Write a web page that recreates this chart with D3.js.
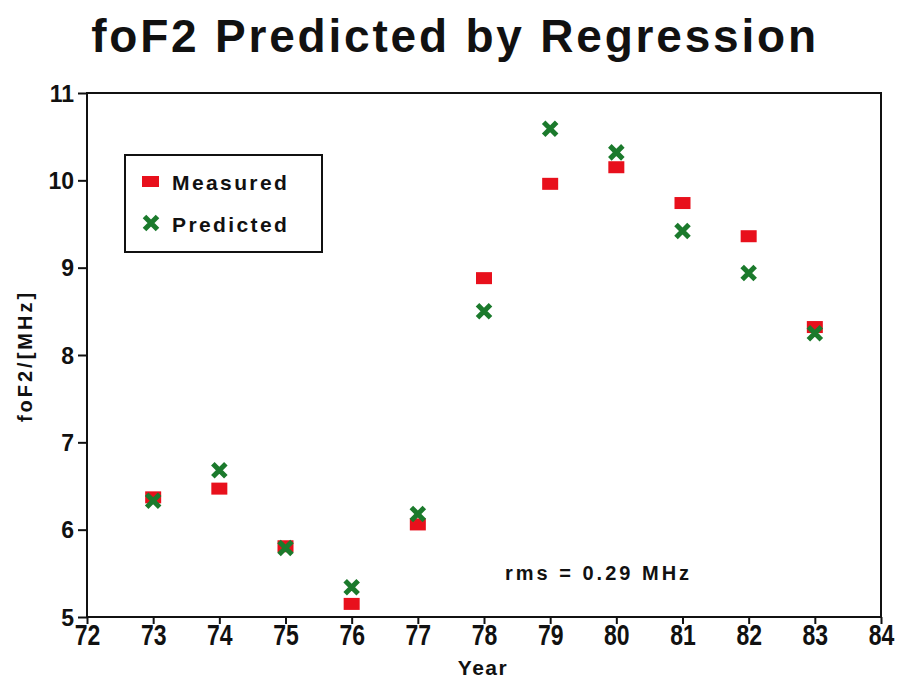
<!DOCTYPE html>
<html>
<head>
<meta charset="utf-8">
<script src="https://cdn.jsdelivr.net/npm/d3@7"></script>
<style>
  body { margin: 0; background: #fff; }
  text { font-family: "Liberation Sans", Arial, sans-serif; font-weight: bold; fill: #111; }
</style>
</head>
<body>
<div id="chart"></div>
<script>
var svgWidth = 898;
var svgHeight = 679;

var margin = { top: 93, right: 17, bottom: 62, left: 87 };
var width = svgWidth - margin.left - margin.right;
var height = svgHeight - margin.top - margin.bottom;

// data
var years = [73, 74, 75, 76, 77, 78, 79, 80, 81, 82, 83];
var measured = [6.37, 6.47, 5.81, 5.15, 6.06, 8.88, 9.96, 10.15, 9.74, 9.36, 8.32];
var predicted = [6.33, 6.68, 5.79, 5.34, 6.18, 8.50, 10.59, 10.32, 9.42, 8.94, 8.25];
var xTicks = d3.range(72, 85);
var yTicks = [5, 6, 7, 8, 9, 10, 11];

var svg = d3.select("#chart")
  .append("svg")
  .attr("width", svgWidth)
  .attr("height", svgHeight);

var chartGroup = svg.append("g")
  .attr("transform", "translate(" + margin.left + "," + margin.top + ")");

var x = d3.scaleLinear().domain([72, 84]).range([0, width]);
var y = d3.scaleLinear().domain([5, 11]).range([height, 0]);

// frame
chartGroup.append("rect")
  .attr("width", width)
  .attr("height", height)
  .attr("fill", "none")
  .attr("stroke", "#111")
  .attr("stroke-width", 2);

var xAxis = chartGroup.append("g")
  .attr("transform", "translate(0," + height + ")")
  .call(d3.axisBottom(x).tickValues(xTicks).tickFormat(d3.format("d")).tickSize(7));

var yAxis = chartGroup.append("g")
  .call(d3.axisLeft(y).tickValues(yTicks).tickFormat(d3.format("d")).tickSize(9).tickPadding(4));

[xAxis, yAxis].forEach(function(a) {
  a.select(".domain").remove();
  a.selectAll("line").attr("stroke", "#111").attr("stroke-width", 2);
  a.selectAll("text").style("font-size", "23px").attr("fill", "#111");
});

// x tick labels are drawn taller in the original
xAxis.selectAll("text")
  .attr("y", 28 / 1.3)
  .attr("dy", 0)
  .attr("transform", "scale(1,1.3)");
yAxis.selectAll("text").attr("dy", "8px");

// measured: red squares
chartGroup.selectAll(".meas")
  .data(years)
  .enter()
  .append("rect")
  .attr("class", "meas")
  .attr("x", function(d) { return x(d) - 8; })
  .attr("y", function(d, i) { return y(measured[i]) - 6; })
  .attr("width", 16)
  .attr("height", 12)
  .attr("fill", "#e8101c");

// predicted: green crosses
var cross = "M-6.5,-6.5L6.5,6.5M-6.5,6.5L6.5,-6.5";
chartGroup.selectAll(".pred")
  .data(years)
  .enter()
  .append("path")
  .attr("class", "pred")
  .attr("transform", function(d, i) { return "translate(" + x(d) + "," + y(predicted[i]) + ")"; })
  .attr("d", cross)
  .attr("stroke", "#1b7a2c")
  .attr("stroke-width", 5);

// legend
var legend = svg.append("g").attr("transform", "translate(125,155)");
legend.append("rect")
  .attr("width", 197)
  .attr("height", 97)
  .attr("fill", "#fff")
  .attr("stroke", "#111")
  .attr("stroke-width", 2);
legend.append("rect")
  .attr("x", 17).attr("y", 21).attr("width", 17).attr("height", 11)
  .attr("fill", "#e8101c");
legend.append("path")
  .attr("transform", "translate(26,68)")
  .attr("d", cross)
  .attr("stroke", "#1b7a2c")
  .attr("stroke-width", 5);
legend.append("text")
  .attr("x", 47).attr("y", 35)
  .style("font-size", "21px")
  .style("letter-spacing", "2.4px")
  .text("Measured");
legend.append("text")
  .attr("x", 47).attr("y", 77)
  .style("font-size", "21px")
  .style("letter-spacing", "2.4px")
  .text("Predicted");

// title
svg.append("text")
  .attr("x", 455)
  .attr("y", 52)
  .attr("text-anchor", "middle")
  .style("font-size", "46px")
  .style("letter-spacing", "2.8px")
  .text("foF2 Predicted by Regression");

// axis labels
svg.append("text")
  .attr("x", 483)
  .attr("y", 675)
  .attr("text-anchor", "middle")
  .style("font-size", "21px")
  .style("letter-spacing", "1.5px")
  .text("Year");

svg.append("text")
  .attr("transform", "translate(32,356) rotate(-90)")
  .attr("text-anchor", "middle")
  .style("font-size", "20px")
  .style("letter-spacing", "3px")
  .text("foF2/[MHz]");

svg.append("text")
  .attr("x", 505)
  .attr("y", 580)
  .style("font-size", "20px")
  .style("letter-spacing", "3px")
  .text("rms = 0.29 MHz");
</script>
</body>
</html>
